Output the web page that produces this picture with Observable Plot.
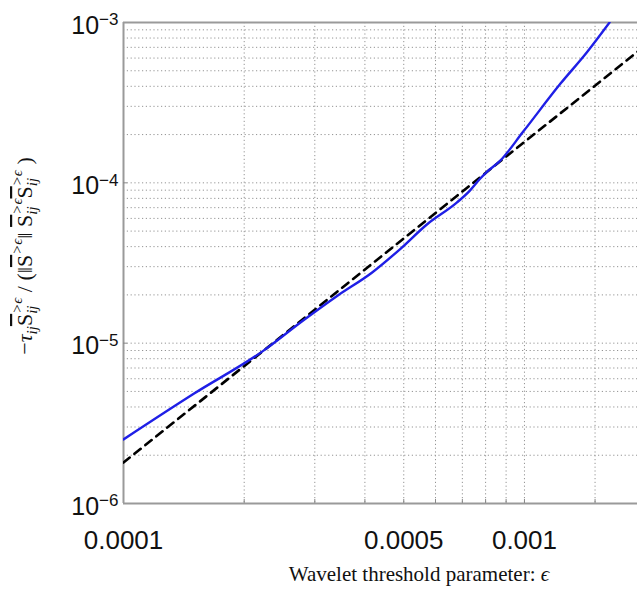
<!DOCTYPE html>
<html><head><meta charset="utf-8">
<script src="https://cdn.jsdelivr.net/npm/d3@7"></script>
<script src="https://cdn.jsdelivr.net/npm/@observablehq/plot@0.6"></script>
<style>body{margin:0;background:#fff}</style>
</head><body><div id="chart"></div>
<script>
// Solid blue curve
const blueEps = [1e-4, 1.5e-4, 2.23e-4, 2.8e-4, 3.41e-4, 4.17e-4, 4.89e-4, 5.71e-4, 6.79e-4, 7.31e-4, 7.75e-4, 8.06e-4, 8.69e-4, 9.92e-4, 1.23e-3, 1.43e-3, 1.63e-3];
const blueVal = [2.51e-6, 4.85e-6, 8.95e-6, 1.38e-5, 1.97e-5, 2.76e-5, 3.85e-5, 5.5e-5, 7.55e-5, 8.95e-5, 1.06e-4, 1.17e-4, 1.37e-4, 2.08e-4, 4.16e-4, 6.5e-4, 1.0e-3];
// Dashed black reference line
const dashEps = [1e-4, 2.23e-4, 7.43e-4, 1.914e-3];
const dashVal = [1.8e-6, 8.95e-6, 9.94e-5, 6.57e-4];

const xTickValues = [1e-4, 5e-4, 1e-3];
const xTickLabels = ["0.0001", "0.0005", "0.001"];
const yTickValues = [1e-6, 1e-5, 1e-4, 1e-3];
const yTickLabels = ["10^\u22126", "10^\u22125", "10^\u22124", "10^\u22123"];
const xGrid = [2e-4, 3e-4, 4e-4, 5e-4, 6e-4, 7e-4, 8e-4, 9e-4, 1e-3, 1.5e-3];
const yGrid = [2e-6,3e-6,4e-6,5e-6,6e-6,7e-6,8e-6,9e-6,1e-5,2e-5,3e-5,4e-5,5e-5,6e-5,7e-5,8e-5,9e-5,1e-4,2e-4,3e-4,4e-4,5e-4,6e-4,7e-4,8e-4,9e-4];
const xLabel = "Wavelet threshold parameter: ";

const blue = blueEps.map((e, i) => ({eps: e, val: blueVal[i]}));
const dash = dashEps.map((e, i) => ({eps: e, val: dashVal[i]}));
const lookup = (vals, labels) => d => { const i = vals.findIndex(v => Math.abs(v - d) / v < 1e-6); return i >= 0 ? labels[i] : ""; };

const gridStyle = {stroke: "#949494", strokeDasharray: "1.2,2.6", strokeWidth: 1};
const frameStyle = {stroke: "#9a9a9a", strokeWidth: 2};

const chart = Plot.plot({
  width: 637, height: 592,
  marginLeft: 123, marginRight: 0, marginTop: 22, marginBottom: 89,
  x: {type: "log", domain: [1e-4, 1.914e-3]},
  y: {type: "log", domain: [1e-6, 1e-3]},
  style: {background: "white", fontFamily: "'Liberation Sans', Arial, sans-serif", color: "#111"},
  marks: [
    Plot.ruleX(xGrid, gridStyle),
    Plot.ruleY(yGrid, gridStyle),
    Plot.ruleY([1e-3], frameStyle),
    Plot.ruleY([1e-6], frameStyle),
    Plot.ruleX([1e-4], frameStyle),
    Plot.axisX(xGrid, {tickSize: -4, tickFormat: () => "", stroke: "#888", label: null}),
    Plot.axisY([1e-5, 1e-4], {tickSize: -4, tickFormat: () => "", stroke: "#888", label: null}),
    Plot.axisX(xTickValues, {tickSize: 0, tickPadding: 27, fontSize: 26, tickFormat: lookup(xTickValues, xTickLabels), label: null}),
    Plot.axisY(yTickValues, {tickSize: 0, tickPadding: 5, fontSize: 25, dy: 3, tickFormat: lookup(yTickValues, yTickLabels), label: null}),
    Plot.line(dash, {x: "eps", y: "val", stroke: "black", strokeWidth: 2.6, strokeDasharray: "8,6", clip: true}),
    Plot.line(blue, {x: "eps", y: "val", stroke: "#1f1fe6", strokeWidth: 2.4, clip: true, curve: "monotone-x"})
  ]
});
document.getElementById("chart").appendChild(chart);

const svg = d3.select(chart);
// superscript exponents on y tick labels
svg.selectAll('g[aria-label="y-axis tick label"] text').each(function() {
  const s = this.textContent;
  if (!s.includes("^")) return;
  const [b, e] = s.split("^");
  this.textContent = b;
  d3.select(this).append("tspan").attr("dy", "-0.48em").attr("font-size", "0.68em").text(e);
});

// x-axis label
const xl = svg.append("text").attr("x", 419).attr("y", 581).attr("text-anchor", "middle")
  .attr("font-family", "'Liberation Serif', 'Times New Roman', serif").attr("font-size", 21).attr("fill", "#111");
xl.append("tspan").text(xLabel);
xl.append("tspan").attr("font-style", "italic").text("\u03f5");

// y-axis label
const t = svg.append("text").attr("transform", "translate(32,256) rotate(-90)").attr("text-anchor", "middle")
  .attr("font-family", "'Liberation Serif', 'Times New Roman', serif").attr("font-size", 22).attr("fill", "#111");
let cur = 0;
function seg(str, o = {}) {
  const shift = o.shift || 0;
  const ts = t.append("tspan").text(str).attr("font-size", o.size || 22).attr("dy", shift - cur);
  cur = shift;
  if (o.dx) ts.attr("dx", o.dx);
  if (o.italic) ts.attr("font-style", "italic");
  if (o.over) ts.style("text-decoration", "overline");
  return ts;
}
function stack(sub, sup) {
  const a = seg(sub, {shift: 5, size: 15, italic: true});
  const w = a.node().getComputedTextLength();
  seg(sup, {shift: -10, size: 15, italic: true, dx: -w});
}
seg("\u2212");
seg("\u03c4", {italic: true});
seg("ij", {shift: 5, size: 15, italic: true});
seg("S", {over: true});
stack("ij", ">\u03f5");
seg(" / (\u2016");
seg("S", {over: true});
seg(">\u03f5", {shift: -10, size: 15, italic: true});
seg("\u2016 ");
seg("S", {over: true});
stack("ij", ">\u03f5");
seg("S", {over: true});
stack("ij", ">\u03f5");
seg(" )");
</script>
</body></html>
